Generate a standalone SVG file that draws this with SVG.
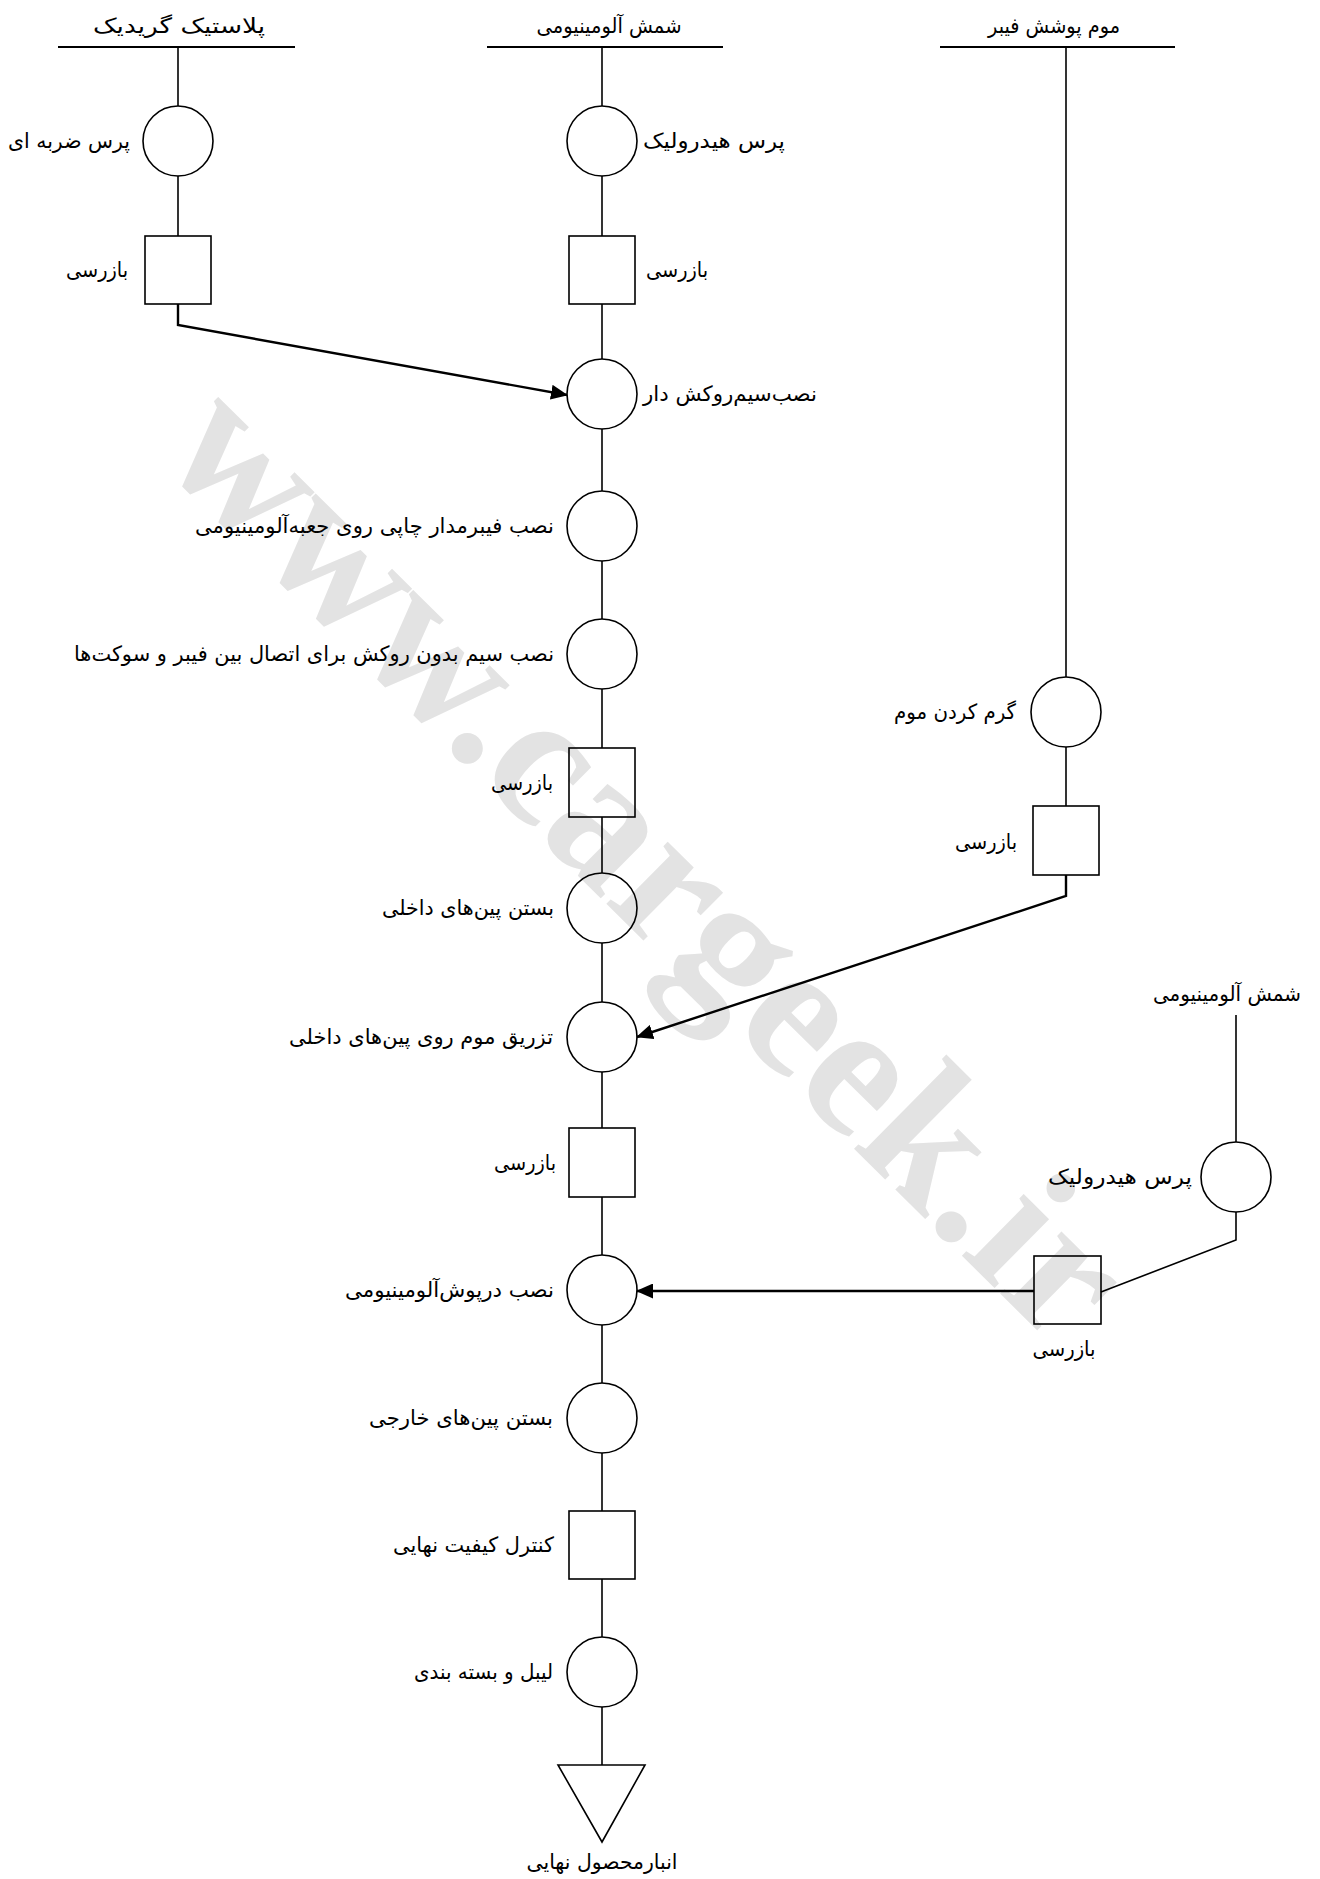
<svg xmlns="http://www.w3.org/2000/svg" width="1320" height="1879" viewBox="0 0 1320 1879">
  <style>
    .lbl { font-family: "DejaVu Sans", sans-serif; font-size: 21px; fill: #000; }
    .hdr { font-family: "DejaVu Sans", sans-serif; font-size: 21px; fill: #000; text-anchor: middle; }
    .end { text-anchor: end; }
    .mid { text-anchor: middle; }
    .op { fill: none; stroke: #000; stroke-width: 1.6; }
    .ln { fill: none; stroke: #000; stroke-width: 1.6; }
    .src { fill: none; stroke: #000; stroke-width: 2.2; }
    .arr { fill: none; stroke: #000; stroke-width: 2.4; marker-end: url(#head); }
    .wm { font-family: "Liberation Serif", serif; font-weight: bold; font-size: 190px; fill: #e3e3e3; text-anchor: middle; }
  </style>
  <defs>
    <marker id="head" markerUnits="userSpaceOnUse" markerWidth="17" markerHeight="15" refX="16" refY="7.5" orient="auto">
      <path d="M0,0 L17,7.5 L0,15 z" fill="#000"/>
    </marker>
  </defs>

  <rect width="1320" height="1879" fill="#fff"/>

  <!-- background watermark -->
  <text class="wm" transform="translate(636,874) rotate(44.7)" x="0" y="42">www.cargeek.ir</text>

  <!-- source material bars -->
  <g id="src-plastic">
    <line class="src" x1="58" y1="47" x2="295" y2="47"/>
    <text class="hdr" x="179" y="33" textLength="172" lengthAdjust="spacingAndGlyphs">پلاستیک گریدیک</text>
  </g>
  <g id="src-alu">
    <line class="src" x1="487" y1="47" x2="723" y2="47"/>
    <text class="hdr" x="609" y="33" textLength="145" lengthAdjust="spacingAndGlyphs">شمش آلومینیومی</text>
  </g>
  <g id="src-wax">
    <line class="src" x1="940" y1="47" x2="1175" y2="47"/>
    <text class="hdr" x="1054" y="33" textLength="132" lengthAdjust="spacingAndGlyphs">موم پوشش فیبر</text>
  </g>
  <g id="src-alu2">
    <text class="hdr" x="1227" y="1001" textLength="148" lengthAdjust="spacingAndGlyphs">شمش آلومینیومی</text>
  </g>

  <!-- connectors -->
  <g id="connectors">
    <!-- left column -->
    <line class="ln" x1="178" y1="47" x2="178" y2="106"/>
    <line class="ln" x1="178" y1="176" x2="178" y2="236"/>
    <polyline class="arr" points="178,304 178,325 567,395"/>
    <!-- main column -->
    <line class="ln" x1="602" y1="47" x2="602" y2="106"/>
    <line class="ln" x1="602" y1="176" x2="602" y2="236"/>
    <line class="ln" x1="602" y1="304" x2="602" y2="359"/>
    <line class="ln" x1="602" y1="429" x2="602" y2="491"/>
    <line class="ln" x1="602" y1="561" x2="602" y2="619"/>
    <line class="ln" x1="602" y1="689" x2="602" y2="748"/>
    <line class="ln" x1="602" y1="817" x2="602" y2="873"/>
    <line class="ln" x1="602" y1="943" x2="602" y2="1002"/>
    <line class="ln" x1="602" y1="1072" x2="602" y2="1128"/>
    <line class="ln" x1="602" y1="1197" x2="602" y2="1255"/>
    <line class="ln" x1="602" y1="1325" x2="602" y2="1383"/>
    <line class="ln" x1="602" y1="1453" x2="602" y2="1511"/>
    <line class="ln" x1="602" y1="1579" x2="602" y2="1637"/>
    <line class="ln" x1="602" y1="1707" x2="602" y2="1765"/>
    <!-- wax column -->
    <line class="ln" x1="1066" y1="47" x2="1066" y2="677"/>
    <line class="ln" x1="1066" y1="747" x2="1066" y2="806"/>
    <polyline class="arr" points="1066,875 1066,896 637,1037"/>
    <!-- second aluminium column -->
    <line class="ln" x1="1236" y1="1015" x2="1236" y2="1142"/>
    <polyline class="ln" points="1236,1212 1236,1240 1101,1292"/>
    <line class="arr" x1="1034" y1="1291" x2="637" y2="1291"/>
  </g>

  <!-- left column nodes -->
  <g id="op-impact-press">
    <circle class="op" cx="178" cy="141" r="35"/>
    <text class="lbl end" x="130" y="148" textLength="122" lengthAdjust="spacingAndGlyphs">پرس ضربه ای</text>
  </g>
  <g id="insp-plastic">
    <rect class="op" x="145" y="236" width="66" height="68"/>
    <text class="lbl end" x="128" y="277" textLength="62" lengthAdjust="spacingAndGlyphs">بازرسی</text>
  </g>

  <!-- main column nodes -->
  <g id="op-hydraulic-press">
    <circle class="op" cx="602" cy="141" r="35"/>
    <text class="lbl" x="643" y="148" textLength="142" lengthAdjust="spacingAndGlyphs">پرس هیدرولیک</text>
  </g>
  <g id="insp-alu">
    <rect class="op" x="569" y="236" width="66" height="68"/>
    <text class="lbl" x="646" y="277" textLength="62" lengthAdjust="spacingAndGlyphs">بازرسی</text>
  </g>
  <g id="op-coated-wire">
    <circle class="op" cx="602" cy="394" r="35"/>
    <text class="lbl" x="643" y="401" textLength="174" lengthAdjust="spacingAndGlyphs">نصب‌سیم‌روکش دار</text>
  </g>
  <g id="op-pcb">
    <circle class="op" cx="602" cy="526" r="35"/>
    <text class="lbl end" x="554" y="533" textLength="359" lengthAdjust="spacingAndGlyphs">نصب فیبرمدار چاپی روی جعبه‌آلومینیومی</text>
  </g>
  <g id="op-bare-wire">
    <circle class="op" cx="602" cy="654" r="35"/>
    <text class="lbl end" x="554" y="661" textLength="480" lengthAdjust="spacingAndGlyphs">نصب سیم بدون روکش برای اتصال بین فیبر و سوکت‌ها</text>
  </g>
  <g id="insp-wiring">
    <rect class="op" x="569" y="748" width="66" height="69"/>
    <text class="lbl end" x="553" y="790" textLength="62" lengthAdjust="spacingAndGlyphs">بازرسی</text>
  </g>
  <g id="op-inner-pins">
    <circle class="op" cx="602" cy="908" r="35"/>
    <text class="lbl end" x="554" y="915" textLength="172" lengthAdjust="spacingAndGlyphs">بستن پین‌های داخلی</text>
  </g>
  <g id="op-wax-inject">
    <circle class="op" cx="602" cy="1037" r="35"/>
    <text class="lbl end" x="553" y="1044" textLength="264" lengthAdjust="spacingAndGlyphs">تزریق موم روی پین‌های داخلی</text>
  </g>
  <g id="insp-wax">
    <rect class="op" x="569" y="1128" width="66" height="69"/>
    <text class="lbl end" x="556" y="1170" textLength="62" lengthAdjust="spacingAndGlyphs">بازرسی</text>
  </g>
  <g id="op-cover">
    <circle class="op" cx="602" cy="1290" r="35"/>
    <text class="lbl end" x="554" y="1297" textLength="209" lengthAdjust="spacingAndGlyphs">نصب درپوش‌آلومینیومی</text>
  </g>
  <g id="op-outer-pins">
    <circle class="op" cx="602" cy="1418" r="35"/>
    <text class="lbl end" x="553" y="1425" textLength="184" lengthAdjust="spacingAndGlyphs">بستن پین‌های خارجی</text>
  </g>
  <g id="insp-final">
    <rect class="op" x="569" y="1511" width="66" height="68"/>
    <text class="lbl end" x="554" y="1552" textLength="161" lengthAdjust="spacingAndGlyphs">کنترل کیفیت نهایی</text>
  </g>
  <g id="op-packing">
    <circle class="op" cx="602" cy="1672" r="35"/>
    <text class="lbl end" x="553" y="1679" textLength="139" lengthAdjust="spacingAndGlyphs">لیبل و بسته بندی</text>
  </g>
  <g id="store-final">
    <polygon class="op" points="558,1765 645,1765 602,1842"/>
    <text class="lbl mid" x="602" y="1869" textLength="151" lengthAdjust="spacingAndGlyphs">انبارمحصول نهایی</text>
  </g>

  <!-- wax column nodes -->
  <g id="op-heat-wax">
    <circle class="op" cx="1066" cy="712" r="35"/>
    <text class="lbl end" x="1016" y="719" textLength="122" lengthAdjust="spacingAndGlyphs">گرم کردن موم</text>
  </g>
  <g id="insp-heat-wax">
    <rect class="op" x="1033" y="806" width="66" height="69"/>
    <text class="lbl end" x="1017" y="849" textLength="62" lengthAdjust="spacingAndGlyphs">بازرسی</text>
  </g>

  <!-- second aluminium column nodes -->
  <g id="op-hydraulic-press-2">
    <circle class="op" cx="1236" cy="1177" r="35"/>
    <text class="lbl end" x="1192" y="1184" textLength="144" lengthAdjust="spacingAndGlyphs">پرس هیدرولیک</text>
  </g>
  <g id="insp-cover">
    <rect class="op" x="1034" y="1256" width="67" height="68"/>
    <text class="lbl mid" x="1064" y="1356" textLength="63" lengthAdjust="spacingAndGlyphs">بازرسی</text>
  </g>
</svg>
